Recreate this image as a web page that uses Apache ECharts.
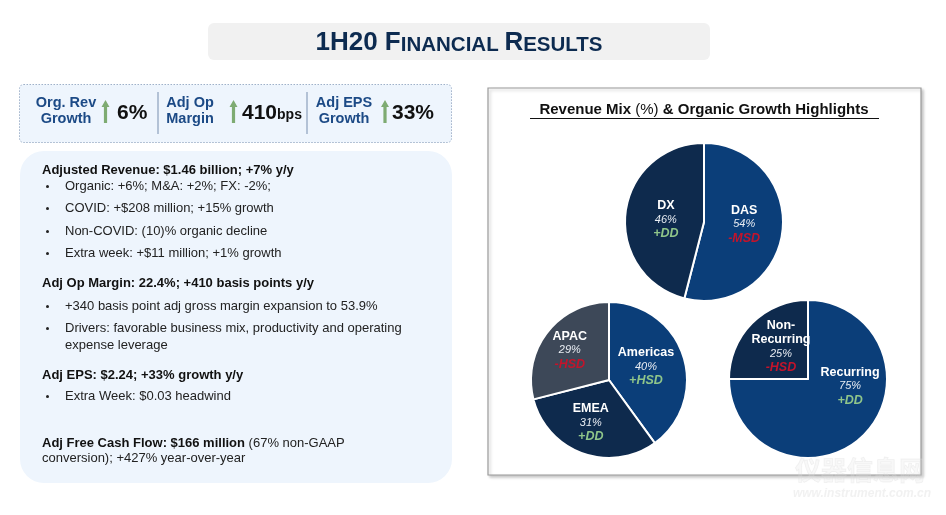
<!DOCTYPE html>
<html><head><meta charset="utf-8">
<script src="https://cdn.jsdelivr.net/npm/echarts/dist/echarts.min.js"></script>
<style>html,body{margin:0;padding:0;background:#fff}#c{width:946px;height:515px}</style>
</head><body><div id="c"></div>
<script>
// ---- data ----
const segmentNames = ['DAS', 'DX'];
const segmentShares = [54, 46];
const segmentGrowth = ['-MSD', '+DD'];
const regionNames = ['Americas', 'EMEA', 'APAC'];
const regionShares = [40, 31, 29];
const regionGrowth = ['+HSD', '+DD', '-HSD'];
const revenueTypeNames = ['Recurring', 'Non-Recurring'];
const revenueTypeShares = [75, 25];
const revenueTypeGrowth = ['+DD', '-HSD'];
const kpiLabels = [['Org. Rev', 'Growth'], ['Adj Op', 'Margin'], ['Adj EPS', 'Growth']];
const kpiValues = ['6%', '410', '33%'];
const kpiUnits = ['', 'bps', ''];
const slideTitle = ['1H20 F', 'INANCIAL ', 'R', 'ESULTS'];
const chartTitle = ['Revenue Mix ', '(%)', ' & Organic Growth Highlights'];
const bulletBlocks = [
  ['h', 'Adjusted Revenue: $1.46 billion; +7% y/y'],
  ['b', 'Organic: +6%; M&A: +2%; FX: -2%;'],
  ['b', 'COVID: +$208 million; +15% growth'],
  ['b', 'Non-COVID: (10)% organic decline'],
  ['b', 'Extra week: +$11 million; +1% growth'],
  ['h', 'Adj Op Margin: 22.4%; +410 basis points y/y'],
  ['b', '+340 basis point adj gross margin expansion to 53.9%'],
  ['b', 'Drivers: favorable business mix, productivity and operating'],
  ['c', 'expense leverage'],
  ['h', 'Adj EPS: $2.24; +33% growth y/y'],
  ['b', 'Extra Week: $0.03 headwind'],
  ['m', 'Adj Free Cash Flow: $166 million', ' (67% non-GAAP'],
  ['p', 'conversion); +427% year-over-year']
];

// ---- layout ----
const FONT = '"Liberation Sans", Arial, sans-serif';
const NAVY = '#0d2b50';
const lineY = [170, 186, 208, 231, 253, 283, 306, 328, 345, 375, 396, 443, 458];

const chart = echarts.init(document.getElementById('c'), null, {renderer: 'canvas'});
const g = [];

// slide title
g.push({type: 'rect', shape: {x: 208, y: 23, width: 502, height: 37, r: 6}, style: {fill: '#f1f1f1'}});
g.push({type: 'text', x: 459, y: 43, style: {
  text: '{b|' + slideTitle[0] + '}{s|' + slideTitle[1] + '}{b|' + slideTitle[2] + '}{s|' + slideTitle[3] + '}',
  align: 'center', verticalAlign: 'middle',
  rich: {
    b: {fontFamily: FONT, fontWeight: 'bold', fontSize: 26, fill: NAVY, verticalAlign: 'bottom'},
    s: {fontFamily: FONT, fontWeight: 'bold', fontSize: 20.5, fill: NAVY, verticalAlign: 'bottom'}
  }
}});

// KPI box
g.push({type: 'rect', shape: {x: 19.5, y: 84.5, width: 432, height: 58, r: 4},
  style: {fill: '#eef5fd', stroke: '#9fb1c9', lineWidth: 1, lineDash: [1.5, 1.5]}});
const kpiLabelX = [66, 190, 344];
const arrowX = [105.5, 233.5, 385];
const valueX = [117, 242, 392];
kpiLabels.forEach((lab, i) => {
  g.push({type: 'text', x: kpiLabelX[i], y: 111, style: {
    text: lab.join('\n'), align: 'center', verticalAlign: 'middle', lineHeight: 16,
    fontFamily: FONT, fontWeight: 'bold', fontSize: 14.5, fill: '#1c4a86'}});
  const ax = arrowX[i];
  g.push({type: 'polygon', shape: {points: [[ax, 100], [ax + 4, 107], [ax + 1.6, 107], [ax + 1.6, 123], [ax - 1.6, 123], [ax - 1.6, 107], [ax - 4, 107]]},
    style: {fill: '#7eab72'}});
  g.push({type: 'text', x: valueX[i], y: 113, style: {
    text: '{v|' + kpiValues[i] + '}' + (kpiUnits[i] ? '{u|' + kpiUnits[i] + '}' : ''),
    align: 'left', verticalAlign: 'middle',
    rich: {
      v: {fontFamily: FONT, fontWeight: 'bold', fontSize: 21, fill: '#111', verticalAlign: 'bottom'},
      u: {fontFamily: FONT, fontWeight: 'bold', fontSize: 14, fill: '#111', verticalAlign: 'bottom', padding: [0, 0, 1, 0]}
    }}});
});
[158, 307].forEach(x => g.push({type: 'line', shape: {x1: x, y1: 92, x2: x, y2: 134}, style: {stroke: '#9fb1c9', lineWidth: 1.5}}));

// bullet text box
g.push({type: 'rect', shape: {x: 20, y: 151, width: 432, height: 332, r: 24}, style: {fill: '#eef5fd'}});
bulletBlocks.forEach((ln, i) => {
  const y = lineY[i];
  const kind = ln[0];
  if (kind === 'h') {
    g.push({type: 'text', x: 42, y, style: {text: ln[1], verticalAlign: 'middle', fontFamily: FONT, fontWeight: 'bold', fontSize: 13, fill: '#111'}});
  } else if (kind === 'b' || kind === 'c') {
    if (kind === 'b') g.push({type: 'circle', shape: {cx: 47.5, cy: y + 0.5, r: 1.5}, style: {fill: '#222'}});
    g.push({type: 'text', x: 65, y, style: {text: ln[1], verticalAlign: 'middle', fontFamily: FONT, fontSize: 13, fill: '#222'}});
  } else if (kind === 'm') {
    g.push({type: 'text', x: 42, y, style: {text: '{b|' + ln[1] + '}{r|' + ln[2] + '}', verticalAlign: 'middle',
      rich: {b: {fontFamily: FONT, fontWeight: 'bold', fontSize: 13, fill: '#111'}, r: {fontFamily: FONT, fontSize: 13, fill: '#222'}}}});
  } else {
    g.push({type: 'text', x: 42, y, style: {text: ln[1], verticalAlign: 'middle', fontFamily: FONT, fontSize: 13, fill: '#222'}});
  }
});

// right chart box
g.push({type: 'rect', shape: {x: 488, y: 88, width: 433, height: 387},
  style: {fill: '#fff', stroke: '#9a9a9a', lineWidth: 1.2, shadowBlur: 3, shadowOffsetX: 2, shadowOffsetY: 2, shadowColor: 'rgba(0,0,0,0.22)'}});
g.push({type: 'text', x: 704, y: 110, z: 10, style: {
  text: '{b|' + chartTitle[0] + '}{r|' + chartTitle[1] + '}{b|' + chartTitle[2] + '}',
  align: 'center', verticalAlign: 'middle',
  rich: {b: {fontFamily: FONT, fontWeight: 'bold', fontSize: 15, fill: '#111'}, r: {fontFamily: FONT, fontSize: 15, fill: '#111'}}}});
g.push({type: 'line', z: 10, shape: {x1: 530, y1: 118.5, x2: 879, y2: 118.5}, style: {stroke: '#111', lineWidth: 1.2}});

// watermark (faint)
g.push({type: 'text', x: 860, y: 470, z: 20, style: {text: '仪器信息网', align: 'center', verticalAlign: 'middle',
  fontFamily: '"Noto Sans CJK SC", sans-serif', fontWeight: 'bold', fontSize: 26, fill: 'rgba(225,225,225,0.22)', stroke: 'rgba(215,215,215,0.3)', lineWidth: 0.8}});
g.push({type: 'text', x: 862, y: 494, z: 20, style: {text: 'www.instrument.com.cn', align: 'center', verticalAlign: 'middle',
  fontFamily: FONT, fontWeight: 'bold', fontStyle: 'italic', fontSize: 12, fill: 'rgba(215,215,215,0.35)'}});

// ---- pies ----
const richStyle = {
  n: {fontFamily: FONT, fontWeight: 'bold', fontSize: 12.5, color: '#fff', lineHeight: 14},
  p: {fontFamily: FONT, fontStyle: 'italic', fontSize: 11, color: '#e9edf3', lineHeight: 14},
  up: {fontFamily: FONT, fontWeight: 'bold', fontStyle: 'italic', fontSize: 12.5, color: '#8fc58a', lineHeight: 14},
  dn: {fontFamily: FONT, fontWeight: 'bold', fontStyle: 'italic', fontSize: 12.5, color: '#c3142b', lineHeight: 14}
};
function labelFor(growth) {
  return p => {
    const nm = p.name.indexOf('-') > 0 ? p.name.replace('-', '-\n') : p.name;
    const nameLines = nm.split('\n').map(s => '{n|' + s + '}').join('\n');
    const gr = growth[p.dataIndex];
    return nameLines + '\n{p|' + p.value + '%}\n{' + (gr[0] === '+' ? 'up' : 'dn') + '|' + gr + '}';
  };
}
function pie(names, values, growth, colors, center, radius, layout) {
  return {
    type: 'pie', center, radius, startAngle: 90, clockwise: true, animation: false,
    silent: true,
    data: names.map((n, i) => ({name: n, value: values[i], itemStyle: {color: colors[i]}})),
    itemStyle: {borderColor: '#fff', borderWidth: 2},
    label: {show: true, position: 'inside', formatter: labelFor(growth), rich: richStyle, align: 'center'},
    labelLine: {show: false},
    labelLayout: layout
  };
}

chart.setOption({
  animation: false,
  graphic: {elements: g},
  series: [
    pie(segmentNames, segmentShares, segmentGrowth, ['#0b3e79', '#0e2a4d'], [704, 222], 79,
      p => p.dataIndex === 0 ? {dx: -2, dy: -3} : {dx: 4, dy: 3}),
    pie(regionNames, regionShares, regionGrowth, ['#0b3e79', '#0e2a4d', '#3d4858'], [609, 380], 78,
      p => p.dataIndex === 0 ? {dx: -3, dy: 0} : (p.dataIndex === 1 ? {dx: -4, dy: 3} : {dx: -6, dy: -4})),
    pie(revenueTypeNames, revenueTypeShares, revenueTypeGrowth, ['#0b3e79', '#0e2a4d'], [808, 379], 79,
      p => p.dataIndex === 0 ? {dx: 12, dy: -23} : {dx: 3, dy: -2})
  ]
});
</script></body></html>
